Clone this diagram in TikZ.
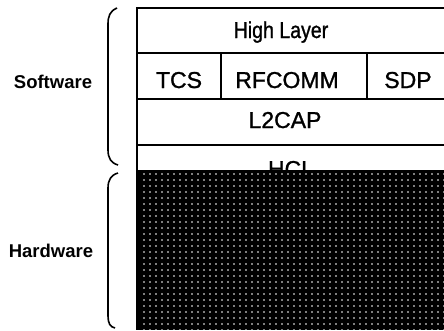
\documentclass[tikz,border=0pt]{standalone}
\usepackage{fontspec}
\setmainfont{Liberation Sans}
\newfontfamily\stackfont[FakeBold=1.2]{Liberation Sans}
\usetikzlibrary{patterns.meta}

\begin{document}
\begin{tikzpicture}[
  x = 1pt, y = -1pt,
  layer/.style = {font=\stackfont\fontsize{23}{23}\selectfont, inner sep=0pt, anchor=base},
  side/.style = {font=\bfseries\fontsize{18.5}{18.5}\selectfont, inner sep=0pt, anchor=base},
  brace/.style = {line width=1.6pt},
  rule/.style = {line width=1.6pt},
]
% stack edges: left side at \xl, right side runs off the page
\def\xl{137}
\def\xr{460}
\useasboundingbox (0,0) rectangle (444,330);
\clip (0,0) rectangle (444,330);

\draw[rule] (\xr,8) -- (\xl,8) -- (\xl,330);
\draw[rule] (\xl,53) -- (\xr,53);
\draw[rule] (\xl,99) -- (\xr,99);
\draw[rule] (\xl,145) -- (\xr,145);
\draw[rule] (221,53) -- (221,99);
\draw[rule] (367,53) -- (367,99);

\node[layer] (high) at (281,38) {\scalebox{0.85}[1]{High Layer}};
\node[layer] (tcs) at (179,88) {TCS};
\node[layer] (rfcomm) at (287,88) {RFCOMM};
\node[layer] (sdp) at (408,88) {SDP};
\node[layer] (l2cap) at (285,128) {L2CAP};
\node[layer] (hcl) at (291,177) {HCL};

% hardware block
\fill[black] (\xl,170) rectangle (\xr,330);
\fill[pattern={Dots[distance=6pt, radius=0.9pt]}, pattern color=white]
  (\xl+2,173) rectangle (\xr,330);

% braces
\draw[brace] (117,8) .. controls (110,11) and (108,16) .. (108,24)
  -- (108,150) .. controls (108,158) and (111,163) .. (118,165);
\draw[brace] (118,173) .. controls (111,175) and (108,180) .. (108,188)
  -- (108,316) .. controls (108,323) and (110,327) .. (115,328);

\node[side] (sw) at (53,88) {Software};
\node[side] (hw) at (51,257) {Hardware};

\end{tikzpicture}
\end{document}
